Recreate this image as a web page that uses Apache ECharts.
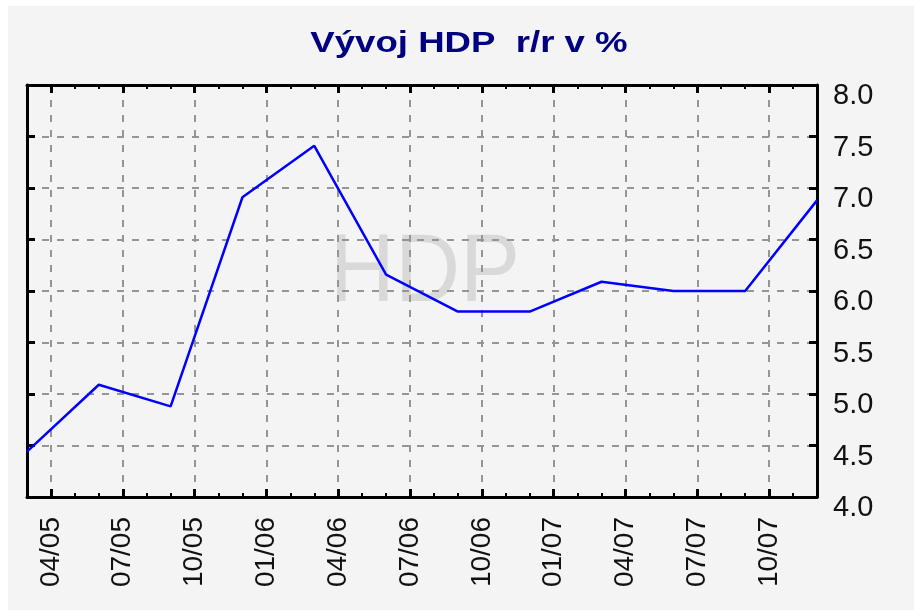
<!DOCTYPE html>
<html>
<head>
<meta charset="utf-8">
<script src="https://cdn.jsdelivr.net/npm/echarts@6/dist/echarts.min.js"></script>
<style>
  html, body { margin: 0; padding: 0; background: #ffffff; }
  #hdp { position: absolute; left: 8px; top: 6px; width: 906px; height: 604px; }
</style>
</head>
<body>
<div id="hdp"></div>
<script>
// měsíce na ose x (03/05 .. 12/07)
const months = [
  '03/05', '04/05', '05/05', '06/05', '07/05', '08/05', '09/05', '10/05', '11/05', '12/05',
  '01/06', '02/06', '03/06', '04/06', '05/06', '06/06', '07/06', '08/06', '09/06', '10/06', '11/06', '12/06',
  '01/07', '02/07', '03/07', '04/07', '05/07', '06/07', '07/07', '08/07', '09/07', '10/07', '11/07', '12/07'
];
// čtvrtletní hodnoty HDP r/r v %
const quarters = ['03/05', '06/05', '09/05', '12/05', '03/06', '06/06', '09/06', '12/06', '03/07', '06/07', '09/07', '12/07'];
const hdpValues = [4.44, 5.09, 4.88, 6.91, 7.41, 6.16, 5.8, 5.8, 6.09, 6.0, 6.0, 6.88];
const yTicks = [4.0, 4.5, 5.0, 5.5, 6.0, 6.5, 7.0, 7.5, 8.0];

const seriesData = months.map(m => {
  const i = quarters.indexOf(m);
  return i >= 0 ? hdpValues[i] : null;
});

const isQuarter = (idx) => idx % 3 === 1; // 04, 07, 10, 01

const chart = echarts.init(document.getElementById('hdp'));

const dashed = { color: '#959595', width: 2, type: [7, 8] };
const frame = { show: true, lineStyle: { color: '#000', width: 3 } };

chart.setOption({
  backgroundColor: '#f4f4f4',
  animation: false,
  graphic: [
    {
      type: 'text', x: 461, y: 38, scaleX: 1.22, z: 10,
      style: {
        text: 'Vývoj HDP  r/r v %',
        font: 'bold 30px "Liberation Sans", Arial, sans-serif',
        fill: '#000080', textAlign: 'center', textVerticalAlign: 'middle'
      }
    },
    {
      type: 'text', x: 417, y: 268, scaleX: 0.93, z: -1,
      style: {
        text: 'HDP',
        font: '97px "Liberation Sans", Arial, sans-serif',
        fill: '#d9d9d9', textAlign: 'center', textVerticalAlign: 'middle'
      }
    }
  ],
  grid: { left: 19, top: 79, width: 790, height: 412 },
  xAxis: [
    {
      type: 'category', data: months, position: 'bottom', boundaryGap: false,
      axisLine: frame,
      axisTick: { show: true, inside: true, interval: 0, length: 4, lineStyle: { color: '#000', width: 2 } },
      axisLabel: {
        interval: (idx) => isQuarter(idx), rotate: 90, margin: 20,
        fontFamily: '"Liberation Sans", Arial, sans-serif',
        fontSize: 28, color: '#111'
      },
      splitLine: { show: true, interval: (idx) => isQuarter(idx), lineStyle: dashed }
    },
    {
      type: 'category', data: months, position: 'top', boundaryGap: false,
      axisLine: frame,
      axisTick: { show: true, inside: true, interval: 0, length: 4, lineStyle: { color: '#000', width: 2 } },
      axisLabel: { show: false }, splitLine: { show: false }
    },
    {
      type: 'category', data: months, position: 'bottom', boundaryGap: false,
      axisLine: { show: false },
      axisTick: { show: true, inside: true, interval: (idx) => isQuarter(idx), length: 8, lineStyle: { color: '#000', width: 3 } },
      axisLabel: { show: false }, splitLine: { show: false }
    },
    {
      type: 'category', data: months, position: 'top', boundaryGap: false,
      axisLine: { show: false },
      axisTick: { show: true, inside: true, interval: (idx) => isQuarter(idx), length: 8, lineStyle: { color: '#000', width: 3 } },
      axisLabel: { show: false }, splitLine: { show: false }
    }
  ],
  yAxis: [
    {
      type: 'value', position: 'right', min: yTicks[0], max: yTicks[yTicks.length - 1], interval: 0.5,
      axisLine: frame,
      axisTick: { show: true, inside: true, length: 8, lineStyle: { color: '#000', width: 3 } },
      axisLabel: {
        margin: 16, verticalAlign: 'top', lineHeight: 22,
        formatter: (v) => v.toFixed(1),
        fontFamily: '"Liberation Sans", Arial, sans-serif', fontSize: 29, color: '#111'
      },
      splitLine: { show: true, lineStyle: dashed }
    },
    {
      type: 'value', position: 'left', min: yTicks[0], max: yTicks[yTicks.length - 1], interval: 0.5,
      axisLine: frame,
      axisTick: { show: true, inside: true, length: 8, lineStyle: { color: '#000', width: 3 } },
      axisLabel: { show: false }, splitLine: { show: false }
    }
  ],
  series: [
    {
      type: 'line', xAxisIndex: 0, yAxisIndex: 0,
      data: seriesData, connectNulls: true, symbol: 'none',
      lineStyle: { color: '#0000ff', width: 2.5 }, z: 5
    }
  ]
});
</script>
</body>
</html>
